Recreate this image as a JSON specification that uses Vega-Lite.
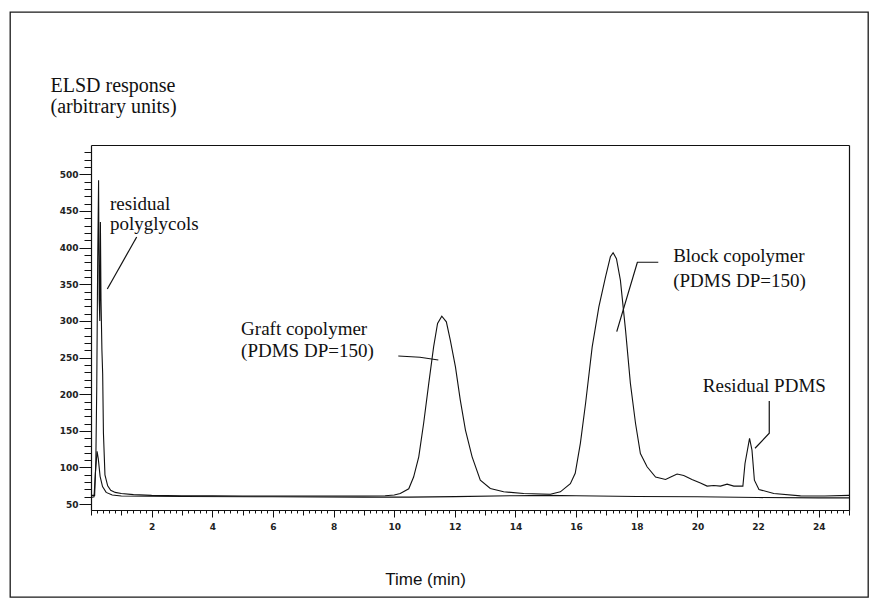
{
 "$schema": "https://vega.github.io/schema/vega-lite/v6.json",
 "width": 858,
 "height": 585,
 "autosize": {"type": "none"},
 "padding": {"left": 10, "top": 12, "right": 11, "bottom": 18},
 "background": "white",
 "config": {
  "view": {"stroke": "#1a1a1a", "strokeWidth": 1.3},
  "axis": {"grid": false, "domainColor": "#111", "tickColor": "#111", "labelColor": "#222", "labelFont": "DejaVu Sans", "labelFontSize": 9, "labelFontWeight": "bold", "domainWidth": 1.2, "tickWidth": 1}
 },
 "datasets": {
  "sample": [
   {"t":0,"v":62},{"t":0.12,"v":62},{"t":0.16,"v":110},{"t":0.19,"v":210},{"t":0.22,"v":380},{"t":0.25,"v":492},{"t":0.27,"v":330},{"t":0.29,"v":300},{"t":0.31,"v":435},{"t":0.33,"v":330},{"t":0.36,"v":260},{"t":0.385,"v":228},{"t":0.41,"v":147},{"t":0.46,"v":90},{"t":0.55,"v":75},{"t":0.65,"v":69},{"t":0.8,"v":66},{"t":1.0,"v":64.5},{"t":1.4,"v":63},{"t":2,"v":62},{"t":3,"v":61.5},{"t":4,"v":61.5},{"t":5,"v":61},{"t":6,"v":61},{"t":7,"v":61},{"t":8,"v":61},{"t":9,"v":61},{"t":9.7,"v":61.5},{"t":10.0,"v":62.5},{"t":10.2,"v":64.6},{"t":10.48,"v":71},{"t":10.64,"v":87},{"t":10.81,"v":114.5},{"t":10.97,"v":160},{"t":11.14,"v":214.7},{"t":11.3,"v":264.6},{"t":11.43,"v":296.5},{"t":11.57,"v":306.5},{"t":11.72,"v":298.7},{"t":11.85,"v":273.7},{"t":12.02,"v":237.3},{"t":12.18,"v":192},{"t":12.35,"v":151},{"t":12.57,"v":114.5},{"t":12.84,"v":82.7},{"t":13.17,"v":71.4},{"t":13.61,"v":66.8},{"t":14.27,"v":64.6},{"t":15.15,"v":63.5},{"t":15.48,"v":66.8},{"t":15.81,"v":78},{"t":15.97,"v":92},{"t":16.14,"v":133},{"t":16.31,"v":187},{"t":16.53,"v":264.6},{"t":16.75,"v":319},{"t":16.97,"v":360},{"t":17.13,"v":387.5},{"t":17.22,"v":393},{"t":17.33,"v":385},{"t":17.46,"v":355.6},{"t":17.63,"v":287.4},{"t":17.79,"v":214.7},{"t":17.96,"v":160},{"t":18.12,"v":119},{"t":18.34,"v":101},{"t":18.62,"v":87},{"t":18.95,"v":83.7},{"t":19.12,"v":87},{"t":19.33,"v":91},{"t":19.55,"v":89},{"t":19.82,"v":83.7},{"t":20.1,"v":79},{"t":20.32,"v":74.6},{"t":20.54,"v":75.5},{"t":20.76,"v":74.6},{"t":20.98,"v":77.3},{"t":21.2,"v":74.6},{"t":21.5,"v":74.6},{"t":21.57,"v":105.5},{"t":21.72,"v":139.6},{"t":21.8,"v":123.7},{"t":21.88,"v":82.7},{"t":22.03,"v":70},{"t":22.52,"v":64.6},{"t":23.4,"v":61.3},{"t":24.2,"v":61},{"t":25,"v":62}
  ],
  "blank": [
   {"t":0,"v":59},{"t":0.1,"v":60},{"t":0.15,"v":95},{"t":0.2,"v":122},{"t":0.24,"v":112},{"t":0.3,"v":88},{"t":0.38,"v":74},{"t":0.5,"v":66},{"t":0.7,"v":62.5},{"t":1,"v":61},{"t":3,"v":60.5},{"t":6,"v":60},{"t":9,"v":59.5},{"t":10.5,"v":59.5},{"t":12,"v":60.3},{"t":14,"v":61.5},{"t":15,"v":62},{"t":16,"v":61.5},{"t":18,"v":60.5},{"t":20,"v":60},{"t":22,"v":59},{"t":24,"v":58.5},{"t":25,"v":58.5}
  ],
  "leaders": [
   {"id":"poly","k":1,"t":1.507,"v":414.5},{"id":"poly","k":2,"t":0.538,"v":343.5},
   {"id":"graft","k":1,"t":10.135,"v":252.1},{"id":"graft","k":2,"t":10.85,"v":250.4},{"id":"graft","k":3,"t":11.455,"v":246.7},
   {"id":"block","k":1,"t":18.71,"v":380},{"id":"block","k":2,"t":18.02,"v":380},{"id":"block","k":3,"t":17.34,"v":285.3},
   {"id":"pdms","k":1,"t":22.37,"v":190.7},{"id":"pdms","k":2,"t":22.37,"v":146.7},{"id":"pdms","k":3,"t":21.9,"v":126.2}
  ],
  "labels": [
   {"label":"residual","t":0.627,"v":451},
   {"label":"polyglycols","t":0.627,"v":424},
   {"label":"Graft copolymer","t":4.95,"v":280.8},
   {"label":"(PDMS DP=150)","t":4.95,"v":250.8},
   {"label":"Block copolymer","t":19.2,"v":380},
   {"label":"(PDMS DP=150)","t":19.2,"v":346.7},
   {"label":"Residual PDMS","t":20.18,"v":203}
  ]
 },
 "resolve": {"scale": {"x": "shared", "y": "shared"}, "axis": {"x": "independent", "y": "independent"}},
 "layer": [
  {
   "data": {"name": "sample"},
   "mark": {"type": "line", "color": "#111", "strokeWidth": 1.1},
   "encoding": {
    "x": {"field": "t", "type": "quantitative",
     "scale": {"domain": [0, 25], "range": [81, 839], "nice": false, "zero": false},
     "axis": {"orient": "bottom", "offset": -87, "values": [2,4,6,8,10,12,14,16,18,20,22,24], "tickSize": 7, "labelPadding": 5, "domain": true, "labelFlush": false, "labelOverlap": false,
      "title": "Time (min)", "titleX": 415, "titleY": 74, "titleAlign": "center", "titleBaseline": "alphabetic", "titleFont": "Liberation Sans", "titleFontSize": 17, "titleFontWeight": "normal", "titleColor": "#111"}},
    "y": {"field": "v", "type": "quantitative",
     "scale": {"domain": [42, 540], "range": [498, 133], "nice": false, "zero": false},
     "axis": {"orient": "left", "offset": -81, "values": [50,100,150,200,250,300,350,400,450,500], "tickSize": 12, "labelPadding": 1, "domain": true, "labelOverlap": false,
      "title": ["ELSD response", "(arbitrary units)"], "titleAngle": 0, "titleX": -41, "titleY": 79, "titleAlign": "left", "titleBaseline": "alphabetic", "titleFont": "Liberation Serif", "titleFontSize": 20, "titleFontWeight": "normal", "titleLineHeight": 21, "titleColor": "#111"}}
   }
  },
  {
   "data": {"name": "blank"},
   "mark": {"type": "line", "color": "#111", "strokeWidth": 1.1},
   "encoding": {
    "x": {"field": "t", "type": "quantitative",
     "scale": {"domain": [0, 25], "range": [81, 839], "nice": false, "zero": false},
     "axis": {"orient": "bottom", "offset": -87, "tickCount": 125, "tickSize": 3, "labels": false, "domain": false, "title": null}},
    "y": {"field": "v", "type": "quantitative",
     "scale": {"domain": [42, 540], "range": [498, 133], "nice": false, "zero": false},
     "axis": {"orient": "left", "offset": -81, "values": [50,60,70,80,90,100,110,120,130,140,150,160,170,180,190,200,210,220,230,240,250,260,270,280,290,300,310,320,330,340,350,360,370,380,390,400,410,420,430,440,450,460,470,480,490,500,510,520,530], "tickSize": 7, "labels": false, "domain": false, "title": null}}
   }
  },
  {
   "data": {"name": "leaders"},
   "mark": {"type": "line", "color": "#111", "strokeWidth": 1.2},
   "encoding": {
    "x": {"field": "t", "type": "quantitative",
     "scale": {"domain": [0, 25], "range": [81, 839], "nice": false, "zero": false},
     "axis": {"orient": "bottom", "offset": -87, "tickCount": 25, "tickSize": 5, "labels": false, "domain": false, "title": null}},
    "y": {"field": "v", "type": "quantitative",
     "scale": {"domain": [42, 540], "range": [498, 133], "nice": false, "zero": false},
     "axis": {"orient": "right", "offset": -19, "ticks": false, "labels": false, "domain": true, "title": null}},
    "detail": {"field": "id"},
    "order": {"field": "k"}
   }
  },
  {
   "data": {"name": "labels"},
   "mark": {"type": "text", "align": "left", "baseline": "alphabetic", "font": "Liberation Serif", "fontSize": 19, "color": "#111"},
   "encoding": {
    "x": {"field": "t", "type": "quantitative",
     "scale": {"domain": [0, 25], "range": [81, 839], "nice": false, "zero": false},
     "axis": {"orient": "top", "offset": -133, "ticks": false, "labels": false, "domain": true, "title": null}},
    "y": {"field": "v", "type": "quantitative",
     "scale": {"domain": [42, 540], "range": [498, 133], "nice": false, "zero": false},
     "axis": null},
    "text": {"field": "label"}
   }
  }
 ]
}
